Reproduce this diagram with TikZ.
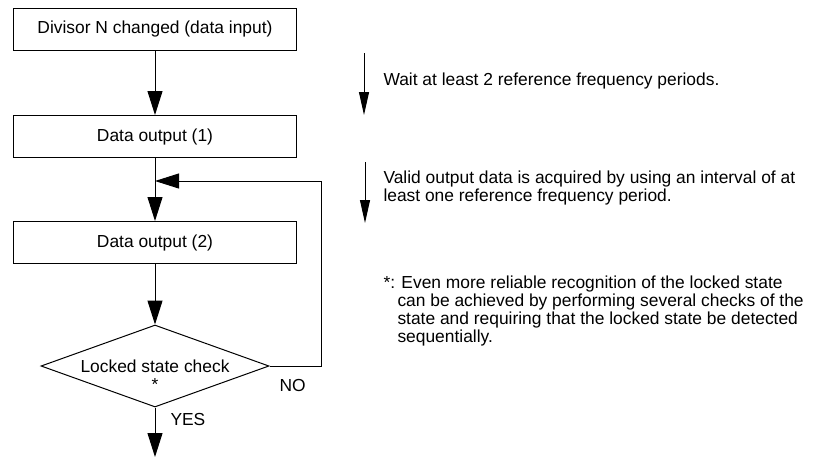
\documentclass[tikz,border=0pt]{standalone}
\usepackage{fontspec}
\setmainfont{Liberation Sans}
\usetikzlibrary{arrows.meta,shapes.geometric}

\begin{document}
\begin{tikzpicture}[x=0.5pt, y=-0.5pt, line width=0.5pt,
    every node/.style={font=\fontsize{8.7}{8.9}\selectfont},
    stepbox/.style={draw, minimum width=141.5pt, minimum height=21pt, inner sep=0pt},
    checkbox/.style={draw, diamond, aspect=2.78, minimum width=114pt, minimum height=41pt, inner sep=0pt},
    flow/.style={-{Triangle[length=12pt, width=7.5pt]}},
    timearrow/.style={-{Triangle[length=11.5pt, width=5pt]}},
    notetext/.style={anchor=west, align=left, inner sep=0pt}]
    \useasboundingbox (0,0) rectangle (819,457);

    \node[stepbox] (input) at (155,29) {Divisor N changed (data input)};
    \node[stepbox] (out1) at (155,136.5) {Data output (1)};
    \node[stepbox] (out2) at (155,242.5) {Data output (2)};
    \node[checkbox] (check) at (155,366) {};
    \node[align=center, inner sep=0pt] (checktext) at (155,375) {Locked state check\\*};

    \coordinate (merge) at (155,181);
    \coordinate (corner) at (321,181);
    \coordinate (exit) at (155,457);

    \draw[flow] (input) -- (out1);
    \draw[flow] (out1) -- (out2);
    \draw[flow] (out2) -- (check);
    \draw[flow] (check.east) -| (corner) -- (merge);
    \draw[flow] (check) -- (exit);

    \node[anchor=west, inner sep=0pt] (no) at (279,385) {NO};
    \node[anchor=west, inner sep=0pt] (yes) at (170,419) {YES};

    % timing notes
    \coordinate (wa) at (364,53);
    \coordinate (wb) at (364,115);
    \coordinate (va) at (365,162);
    \coordinate (vb) at (365,223);
    \draw[timearrow] (wa) -- (wb);
    \draw[timearrow] (va) -- (vb);

    \node[notetext] (waittext) at (383,81) {Wait at least 2 reference frequency periods.};
    \node[notetext, font=\fontsize{8.7}{7.6}\selectfont] (validtext) at (383,188)
        {Valid output data is acquired by using an interval of at\\least one reference frequency period.};
    \node[notetext] (footnote) at (383,311)
        {\makebox[9pt][l]{*:}Even more reliable recognition of the locked state\\%
         \hspace*{7pt}can be achieved by performing several checks of the\\%
         \hspace*{7pt}state and requiring that the locked state be detected\\%
         \hspace*{7pt}sequentially.};
\end{tikzpicture}
\end{document}
